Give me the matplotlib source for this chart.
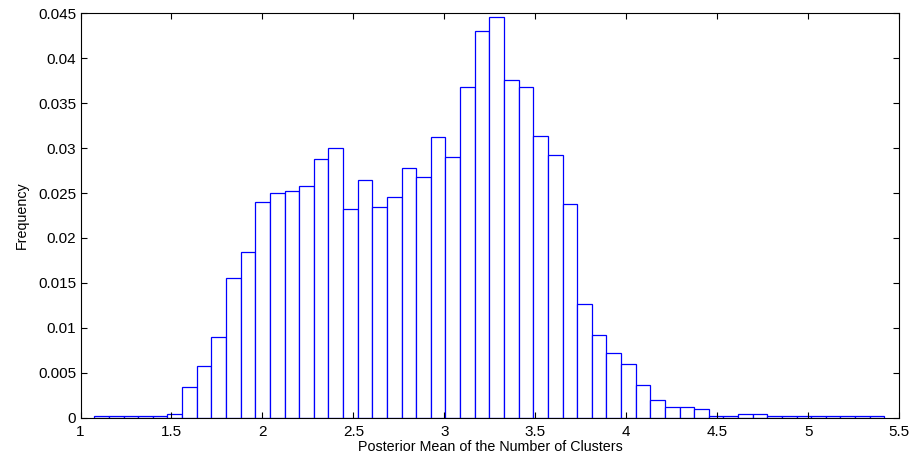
import matplotlib
matplotlib.use("Agg")
import matplotlib.pyplot as plt
import numpy as np

plt.rcParams['font.family'] = ['Liberation Sans', 'DejaVu Sans']

# Histogram data: 54 equal bins between bin_lo and bin_hi
bin_lo = 1.076
bin_hi = 5.418
frequency = [
    0.0002, 0.0002, 0.0002, 0.0002, 0.0002, 0.0004, 0.0034, 0.0058, 0.0090, 0.0156,
    0.0184, 0.0240, 0.0250, 0.0252, 0.0258, 0.0288, 0.0300, 0.0232, 0.0264, 0.0234,
    0.0246, 0.0278, 0.0268, 0.0312, 0.0290, 0.0368, 0.0430, 0.0446, 0.0376, 0.0368,
    0.0314, 0.0292, 0.0238, 0.0126, 0.0092, 0.0072, 0.0060, 0.0036, 0.0020, 0.0012,
    0.0012, 0.0010, 0.0002, 0.0002, 0.0004, 0.0004, 0.0002, 0.0002, 0.0002, 0.0002,
    0.0002, 0.0002, 0.0002, 0.0002,
]
x_ticks = [1, 1.5, 2, 2.5, 3, 3.5, 4, 4.5, 5, 5.5]
x_tick_labels = ["1", "1.5", "2", "2.5", "3", "3.5", "4", "4.5", "5", "5.5"]
y_ticks = [0, 0.005, 0.01, 0.015, 0.02, 0.025, 0.03, 0.035, 0.04, 0.045]
y_tick_labels = ["0", "0.005", "0.01", "0.015", "0.02", "0.025", "0.03", "0.035", "0.04", "0.045"]

edges = np.linspace(bin_lo, bin_hi, len(frequency) + 1)

fig = plt.figure(figsize=(9.17, 4.57), dpi=100)
ax = fig.add_axes([80.5 / 917, 1 - 417.7 / 457, (899.3 - 80.5) / 917, (417.7 - 13.3) / 457])

ax.bar(edges[:-1], frequency, width=np.diff(edges), align='edge',
       facecolor='white', edgecolor='#0000ff', linewidth=0.9)

ax.set_xlim(1, 5.5)
ax.set_ylim(0, 0.045)
ax.set_xticks(x_ticks)
ax.set_xticklabels(x_tick_labels)
ax.set_yticks(y_ticks)
ax.set_yticklabels(y_tick_labels)
ax.tick_params(direction='in', length=4, width=0.8, top=True, right=True,
               labelsize=11, pad=3, colors='black')
ax.tick_params(axis='x', pad=5)
for s in ax.spines.values():
    s.set_linewidth(0.8)

ax.set_xlabel("Posterior Mean of the Number of Clusters", fontsize=10.3, labelpad=1)
ax.set_ylabel("Frequency", fontsize=10.3, labelpad=7)

fig.savefig("out.png", dpi=100)
